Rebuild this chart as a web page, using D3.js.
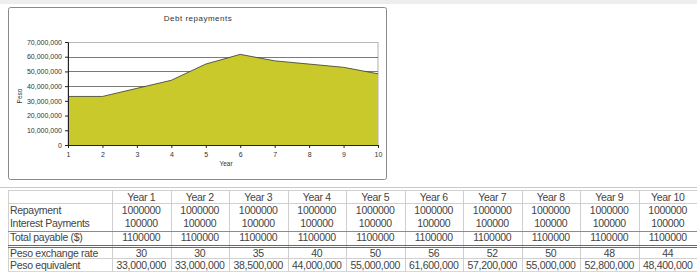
<!DOCTYPE html>
<html>
<head>
<meta charset="utf-8">
<script src="https://cdn.jsdelivr.net/npm/d3@7"></script>
<style>
  body { margin: 0; background: #fff; }
  svg { display: block; font-family: "Liberation Sans", Arial, sans-serif; }
</style>
</head>
<body>
<svg id="debt"></svg>
<script>
// chart data
const years = [1, 2, 3, 4, 5, 6, 7, 8, 9, 10];
const pesoEquivalent = [33000000, 33000000, 38500000, 44000000, 55000000, 61600000, 57200000, 55000000, 52800000, 48400000];
const yTicks = [0, 10000000, 20000000, 30000000, 40000000, 50000000, 60000000, 70000000];

// table data
const colHeads = ["Year 1", "Year 2", "Year 3", "Year 4", "Year 5", "Year 6", "Year 7", "Year 8", "Year 9", "Year 10"];
const repayment = [1000000, 1000000, 1000000, 1000000, 1000000, 1000000, 1000000, 1000000, 1000000, 1000000];
const interest = [100000, 100000, 100000, 100000, 100000, 100000, 100000, 100000, 100000, 100000];
const totalPayable = [1100000, 1100000, 1100000, 1100000, 1100000, 1100000, 1100000, 1100000, 1100000, 1100000];
const exchangeRate = [30, 30, 35, 40, 50, 56, 52, 50, 48, 44];
const rowLabels = ["Repayment", "Interest Payments", "Total payable ($)", "Peso exchange rate", "Peso equivalent"];

const W = 697, H = 280;
const svg = d3.select("svg#debt").attr("width", W).attr("height", H);

svg.append("rect").attr("x", 0).attr("y", 0).attr("width", W).attr("height", 4).attr("fill", "#eeeeee");

// chart frame
svg.append("rect")
    .attr("x", 8.5).attr("y", 7.5).attr("width", 378).attr("height", 172)
    .attr("rx", 2)
    .attr("fill", "#fff").attr("stroke", "#8a8a8a");

const plot = {left: 68, right: 378, top: 42, bottom: 145};

const x = d3.scalePoint().domain(years).range([plot.left, plot.right]);
const y = d3.scaleLinear().domain([0, 70000000]).range([plot.bottom, plot.top]);

// plot area border
svg.append("rect")
    .attr("x", plot.left).attr("y", plot.top + 0.5)
    .attr("width", plot.right - plot.left).attr("height", plot.bottom - plot.top)
    .attr("fill", "#fff").attr("stroke", "#b0b0b0");

// gridlines
svg.append("g").selectAll("line")
    .data(yTicks.filter(d => d > 0))
    .enter().append("line")
    .attr("x1", plot.left).attr("x2", plot.right)
    .attr("y1", d => Math.round(y(d)) + 0.5).attr("y2", d => Math.round(y(d)) + 0.5)
    .attr("stroke", d => d === 70000000 ? "#b8b8b8" : "#7a7a7a")
    .attr("stroke-width", 1);

// area
const pts = years.map((d, i) => ({year: d, value: pesoEquivalent[i]}));
svg.append("path")
    .datum(pts)
    .attr("fill", "#c9c92c")
    .attr("d", d3.area().x(d => x(d.year)).y0(y(0)).y1(d => y(d.value)));
svg.append("path")
    .datum(pts)
    .attr("fill", "none")
    .attr("stroke", "#3a3a30")
    .attr("stroke-width", 0.8)
    .attr("d", d3.line().x(d => x(d.year)).y(d => y(d.value)));

// axes
const yAxis = svg.append("g")
    .attr("transform", "translate(" + plot.left + ",0)")
    .call(d3.axisLeft(y).tickValues(yTicks).tickFormat(d3.format(",")).tickSize(3).tickPadding(3));
const xAxis = svg.append("g")
    .attr("transform", "translate(0," + plot.bottom + ")")
    .call(d3.axisBottom(x).tickSize(3).tickPadding(4));
[yAxis, xAxis].forEach(a => {
    a.select(".domain").attr("stroke", "#222");
    a.selectAll(".tick line").attr("stroke", "#222");
    a.selectAll("text").attr("font-size", "7px").attr("fill", "#333")
        .attr("font-family", "Liberation Sans, Arial, sans-serif");
});

svg.append("text")
    .attr("x", 198).attr("y", 21)
    .attr("text-anchor", "middle")
    .attr("font-size", "8px").attr("letter-spacing", "0.5px")
    .attr("fill", "#333")
    .text("Debt repayments");

svg.append("text")
    .attr("x", 226).attr("y", 166)
    .attr("text-anchor", "middle")
    .attr("font-size", "6.5px").attr("fill", "#333")
    .text("Year");

svg.append("text")
    .attr("transform", "translate(22,96) rotate(-90)")
    .attr("text-anchor", "middle")
    .attr("font-size", "6.5px").attr("fill", "#333")
    .text("Peso");

// separator under chart
svg.append("line")
    .attr("x1", 0).attr("x2", W).attr("y1", 187.5).attr("y2", 187.5)
    .attr("stroke", "#c8c8c8");

// table
const col = d3.scaleBand().domain(colHeads).range([112, 697]);
const rowValues = [
    repayment.map(String),
    interest.map(String),
    totalPayable.map(String),
    exchangeRate.map(String),
    pesoEquivalent.map(d3.format(","))
];

const t = svg.append("g").attr("font-size", "10.5px").attr("letter-spacing", "-0.3px").attr("fill", "#444");

// light grid
t.append("line").attr("x1", 8).attr("x2", W).attr("y1", 190.5).attr("y2", 190.5).attr("stroke", "#d0d0d0");
t.append("line").attr("x1", 8).attr("x2", W).attr("y1", 203.5).attr("y2", 203.5).attr("stroke", "#d0d0d0");
t.append("line").attr("x1", 8).attr("x2", W).attr("y1", 258.5).attr("y2", 258.5).attr("stroke", "#d0d0d0");
t.append("line").attr("x1", 8).attr("x2", W).attr("y1", 271.5).attr("y2", 271.5).attr("stroke", "#d8d8d8");
t.append("line").attr("x1", 8.5).attr("x2", 8.5).attr("y1", 190).attr("y2", 272).attr("stroke", "#d0d0d0");
t.selectAll("line.v")
    .data(colHeads)
    .enter().append("line")
    .attr("class", "v")
    .attr("x1", d => Math.round(col(d)) + 0.5).attr("x2", d => Math.round(col(d)) + 0.5)
    .attr("y1", 190).attr("y2", 272)
    .attr("stroke", "#cfcfcf");

// darker rule under interest, double rule under total
t.append("line").attr("x1", 8).attr("x2", W).attr("y1", 231.5).attr("y2", 231.5).attr("stroke", "#8c8c8c");
t.append("line").attr("x1", 8).attr("x2", W).attr("y1", 245.5).attr("y2", 245.5).attr("stroke", "#6a6a6a");
t.append("line").attr("x1", 8).attr("x2", W).attr("y1", 247.5).attr("y2", 247.5).attr("stroke", "#6a6a6a");

// header
t.selectAll("text.head")
    .data(colHeads)
    .enter().append("text")
    .attr("class", "head")
    .attr("x", d => col(d) + col.bandwidth() / 2)
    .attr("y", 200.5)
    .attr("text-anchor", "middle")
    .text(d => d);

const textY = [214, 227, 241, 257, 268.5];
rowLabels.forEach((lab, r) => {
    t.append("text").attr("x", 10).attr("y", textY[r]).text(lab);
    t.selectAll("text.r" + r)
        .data(rowValues[r])
        .enter().append("text")
        .attr("class", "r" + r)
        .attr("x", (d, i) => col(colHeads[i]) + col.bandwidth() / 2)
        .attr("y", textY[r])
        .attr("text-anchor", "middle")
        .text(d => d);
});
</script>
</body>
</html>
